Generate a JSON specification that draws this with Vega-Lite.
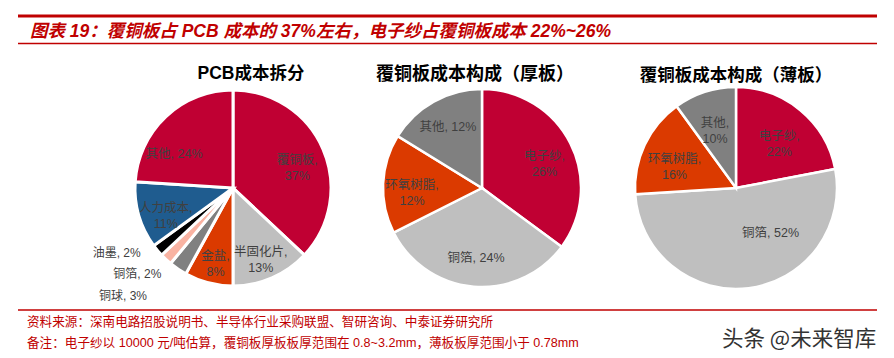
{
  "$schema": "https://vega.github.io/schema/vega-lite/v6.json",
  "padding": 0,
  "background": "white",
  "config": {"view": {"stroke": null}, "concat": {"spacing": 0}},
  "spacing": 0,
  "resolve": {"scale": {"x": "independent", "y": "independent"}},
  "vconcat": [
    {
      "width": 894,
      "height": 64,
      "data": {"values": [{"t": "图表 19：覆铜板占 PCB 成本的 37%左右，电子纱占覆铜板成本 22%~26%"}]},
      "layer": [
        {
          "mark": {"type": "rule", "color": "#C00000", "strokeWidth": 3},
          "encoding": {
            "x": {"datum": 18, "type": "quantitative", "scale": {"domain": [0, 894], "range": [0, 894], "nice": false, "zero": false}, "axis": null},
            "x2": {"datum": 877},
            "y": {"datum": 16, "type": "quantitative", "scale": {"domain": [0, 64], "range": [0, 64], "nice": false, "zero": false}, "axis": null}
          }
        },
        {
          "mark": {"type": "rule", "color": "#C00000", "strokeWidth": 1.5},
          "encoding": {
            "x": {"datum": 18, "type": "quantitative", "scale": {"domain": [0, 894], "range": [0, 894], "nice": false, "zero": false}, "axis": null},
            "x2": {"datum": 877},
            "y": {"datum": 43.5, "type": "quantitative", "scale": {"domain": [0, 64], "range": [0, 64], "nice": false, "zero": false}, "axis": null}
          }
        },
        {
          "mark": {"type": "text", "align": "left", "baseline": "middle", "font": "Liberation Sans, Noto Sans CJK SC", "fontSize": 17.5, "fontWeight": "bold", "fontStyle": "italic", "color": "#C00000"},
          "encoding": {
            "x": {"datum": 30, "type": "quantitative", "scale": {"domain": [0, 894], "range": [0, 894], "nice": false, "zero": false}, "axis": null},
            "y": {"datum": 32, "type": "quantitative", "scale": {"domain": [0, 64], "range": [0, 64], "nice": false, "zero": false}, "axis": null},
            "text": {"field": "t"}
          }
        }
      ]
    },
    {
      "bounds": "flush",
      "spacing": 0,
      "resolve": {"scale": {"color": "independent", "theta": "independent"}},
      "hconcat": [
        {
          "width": 113,
          "height": 242,
          "data": {"values": [{}]},
          "mark": {"type": "text"},
          "encoding": {"text": {"value": ""}}
        },
        {
          "width": 240,
          "height": 242,
          "title": {"text": "PCB成本拆分", "font": "Liberation Sans, Noto Sans CJK SC", "fontSize": 17.5, "fontWeight": "bold", "color": "#000000", "offset": 0, "baseline": "middle", "dy": 24, "dx": 18, "frame": "group"},
          "data": {"values": [
            {"cat": "覆铜板", "v": 37, "label": "覆铜板,\n37%", "o": 1},
            {"cat": "半固化片", "v": 13, "label": "半固化片,\n13%", "o": 2},
            {"cat": "金盐", "v": 8, "label": "金盐,\n8%", "o": 3},
            {"cat": "铜球", "v": 3, "label": "铜球, 3%", "o": 4},
            {"cat": "铜箔", "v": 2, "label": "铜箔, 2%", "o": 5},
            {"cat": "油墨", "v": 2, "label": "油墨, 2%", "o": 6},
            {"cat": "人力成本", "v": 11, "label": "人力成本,\n11%", "o": 7},
            {"cat": "其他", "v": 24, "label": "其他, 24%", "o": 8}
          ]},
          "encoding": {
            "theta": {"field": "v", "type": "quantitative", "stack": true},
            "order": {"field": "o", "type": "quantitative"}
          },
          "layer": [
            {
              "mark": {"type": "arc", "outerRadius": 98, "stroke": "#ffffff", "strokeWidth": 3},
              "encoding": {
                "color": {"field": "cat", "type": "nominal", "legend": null,
                  "scale": {"domain": ["覆铜板", "半固化片", "金盐", "铜球", "铜箔", "油墨", "人力成本", "其他"],
                            "range": ["#C00033", "#BFBFBF", "#DB3A00", "#808080", "#F9B3A2", "#000000", "#1F5C8F", "#C00033"]}}
              }
            },
            {
              "mark": {"type": "text", "radius": 70, "lineBreak": "\n", "lineHeight": 16, "font": "Liberation Sans, Noto Sans CJK SC", "fontSize": 12.5, "color": "#404040"},
              "encoding": {"text": {"condition": {"test": "datum.cat !== '铜球' && datum.cat !== '铜箔' && datum.cat !== '油墨' && datum.cat !== '其他'", "field": "label"}, "value": ""}}
            },
            {
              "mark": {"type": "text", "radius": 70, "dx": -11, "dy": 17, "font": "Liberation Sans, Noto Sans CJK SC", "fontSize": 12.5, "color": "#404040"},
              "encoding": {"text": {"condition": {"test": "datum.cat === '其他'", "field": "label"}, "value": ""}}
            },
            {
              "transform": [
                {"stack": "v", "groupby": [], "sort": [{"field": "o"}], "as": ["s0", "s1"]},
                {"filter": "datum.cat === '铜球'"}
              ],
              "mark": {"type": "text", "radius": 112, "align": "right", "baseline": "middle", "dx": -32, "dy": 10, "font": "Liberation Sans, Noto Sans CJK SC", "fontSize": 12, "color": "#404040"},
              "encoding": {
                "theta": {"field": "s0", "type": "quantitative", "stack": null},
                "text": {"field": "label"}
              }
            },
            {
              "mark": {"type": "text", "radius": 112, "align": "right", "baseline": "middle", "dx": 5, "dy": 4, "font": "Liberation Sans, Noto Sans CJK SC", "fontSize": 12, "color": "#404040"},
              "encoding": {"text": {"condition": {"test": "datum.cat === '铜箔'", "field": "label"}, "value": ""}}
            },
            {
              "mark": {"type": "text", "radius": 112, "align": "right", "baseline": "middle", "dx": -6, "dy": -6, "font": "Liberation Sans, Noto Sans CJK SC", "fontSize": 12, "color": "#404040"},
              "encoding": {"text": {"condition": {"test": "datum.cat === '油墨'", "field": "label"}, "value": ""}}
            }
          ]
        },
        {
          "width": 258,
          "height": 242,
          "title": {"text": "覆铜板成本构成（厚板）", "font": "Noto Sans CJK SC", "fontSize": 18, "fontWeight": "bold", "color": "#000000", "offset": 0, "baseline": "middle", "dy": 26, "dx": -7, "frame": "group"},
          "data": {"values": [
            {"cat": "电子纱", "v": 26, "label": "电子纱,\n26%", "o": 1},
            {"cat": "铜箔", "v": 24, "label": "铜箔, 24%", "o": 2},
            {"cat": "环氧树脂", "v": 12, "label": "环氧树脂,\n12%", "o": 3},
            {"cat": "其他", "v": 12, "label": "其他, 12%", "o": 4}
          ]},
          "encoding": {
            "theta": {"field": "v", "type": "quantitative", "stack": true},
            "order": {"field": "o", "type": "quantitative"}
          },
          "layer": [
            {
              "mark": {"type": "arc", "outerRadius": 99, "stroke": "#ffffff", "strokeWidth": 2.5},
              "encoding": {
                "color": {"field": "cat", "type": "nominal", "legend": null,
                  "scale": {"domain": ["电子纱", "铜箔", "环氧树脂", "其他"], "range": ["#C00033", "#BFBFBF", "#DB3A00", "#808080"]}}
              }
            },
            {
              "mark": {"type": "text", "radius": 70, "lineBreak": "\n", "lineHeight": 16, "font": "Liberation Sans, Noto Sans CJK SC", "fontSize": 12.5, "color": "#404040"},
              "encoding": {"text": {"field": "label"}}
            }
          ]
        },
        {
          "width": 250,
          "height": 242,
          "title": {"text": "覆铜板成本构成（薄板）", "font": "Noto Sans CJK SC", "fontSize": 17.5, "fontWeight": "bold", "color": "#000000", "offset": 0, "baseline": "middle", "dy": 26, "dx": 0, "frame": "group"},
          "data": {"values": [
            {"cat": "电子纱", "v": 22, "label": "电子纱,\n22%", "o": 1},
            {"cat": "铜箔", "v": 52, "label": "铜箔, 52%", "o": 2},
            {"cat": "环氧树脂", "v": 16, "label": "环氧树脂,\n16%", "o": 3},
            {"cat": "其他", "v": 10, "label": "其他,\n10%", "o": 4}
          ]},
          "encoding": {
            "theta": {"field": "v", "type": "quantitative", "stack": true},
            "order": {"field": "o", "type": "quantitative"}
          },
          "layer": [
            {
              "mark": {"type": "arc", "outerRadius": 101, "stroke": "#ffffff", "strokeWidth": 2.5},
              "encoding": {
                "color": {"field": "cat", "type": "nominal", "legend": null,
                  "scale": {"domain": ["电子纱", "铜箔", "环氧树脂", "其他"], "range": ["#C00033", "#BFBFBF", "#DB3A00", "#808080"]}}
              }
            },
            {
              "mark": {"type": "text", "radius": 68, "lineBreak": "\n", "lineHeight": 16, "font": "Liberation Sans, Noto Sans CJK SC", "fontSize": 12.5, "color": "#404040"},
              "encoding": {"text": {"condition": {"test": "datum.cat !== '铜箔'", "field": "label"}, "value": ""}}
            },
            {
              "mark": {"type": "text", "radius": 68, "dx": 26, "dy": -22, "font": "Liberation Sans, Noto Sans CJK SC", "fontSize": 12.5, "color": "#404040"},
              "encoding": {"text": {"condition": {"test": "datum.cat === '铜箔'", "field": "label"}, "value": ""}}
            }
          ]
        }
      ]
    },
    {
      "width": 894,
      "height": 52,
      "data": {"values": [{"src": "资料来源：深南电路招股说明书、半导体行业采购联盟、智研咨询、中泰证券研究所", "note": "备注：电子纱以 10000 元/吨估算，覆铜板厚板板厚范围在 0.8~3.2mm，薄板板厚范围小于 0.78mm", "wm": "头条 @未来智库"}]},
      "layer": [
        {
          "mark": {"type": "rule", "color": "#C00000", "strokeWidth": 1.5},
          "encoding": {
            "x": {"datum": 18, "type": "quantitative", "scale": {"domain": [0, 894], "range": [0, 894], "nice": false, "zero": false}, "axis": null},
            "x2": {"datum": 877},
            "y": {"datum": 1, "type": "quantitative", "scale": {"domain": [0, 52], "range": [0, 52], "nice": false, "zero": false}, "axis": null}
          }
        },
        {
          "mark": {"type": "text", "align": "left", "baseline": "middle", "font": "Liberation Sans, Noto Sans CJK SC", "fontSize": 12.6, "color": "#C00000"},
          "encoding": {
            "x": {"datum": 27, "type": "quantitative", "scale": {"domain": [0, 894], "range": [0, 894], "nice": false, "zero": false}, "axis": null},
            "y": {"datum": 13, "type": "quantitative", "scale": {"domain": [0, 52], "range": [0, 52], "nice": false, "zero": false}, "axis": null},
            "text": {"field": "src"}
          }
        },
        {
          "mark": {"type": "text", "align": "left", "baseline": "middle", "font": "Liberation Sans, Noto Sans CJK SC", "fontSize": 12.6, "color": "#C00000"},
          "encoding": {
            "x": {"datum": 27, "type": "quantitative", "scale": {"domain": [0, 894], "range": [0, 894], "nice": false, "zero": false}, "axis": null},
            "y": {"datum": 34, "type": "quantitative", "scale": {"domain": [0, 52], "range": [0, 52], "nice": false, "zero": false}, "axis": null},
            "text": {"field": "note"}
          }
        },
        {
          "mark": {"type": "text", "align": "left", "baseline": "middle", "font": "Noto Sans CJK SC", "fontSize": 21.5, "color": "#333333"},
          "encoding": {
            "x": {"datum": 722, "type": "quantitative", "scale": {"domain": [0, 894], "range": [0, 894], "nice": false, "zero": false}, "axis": null},
            "y": {"datum": 31, "type": "quantitative", "scale": {"domain": [0, 52], "range": [0, 52], "nice": false, "zero": false}, "axis": null},
            "text": {"field": "wm"}
          }
        }
      ]
    }
  ]
}
